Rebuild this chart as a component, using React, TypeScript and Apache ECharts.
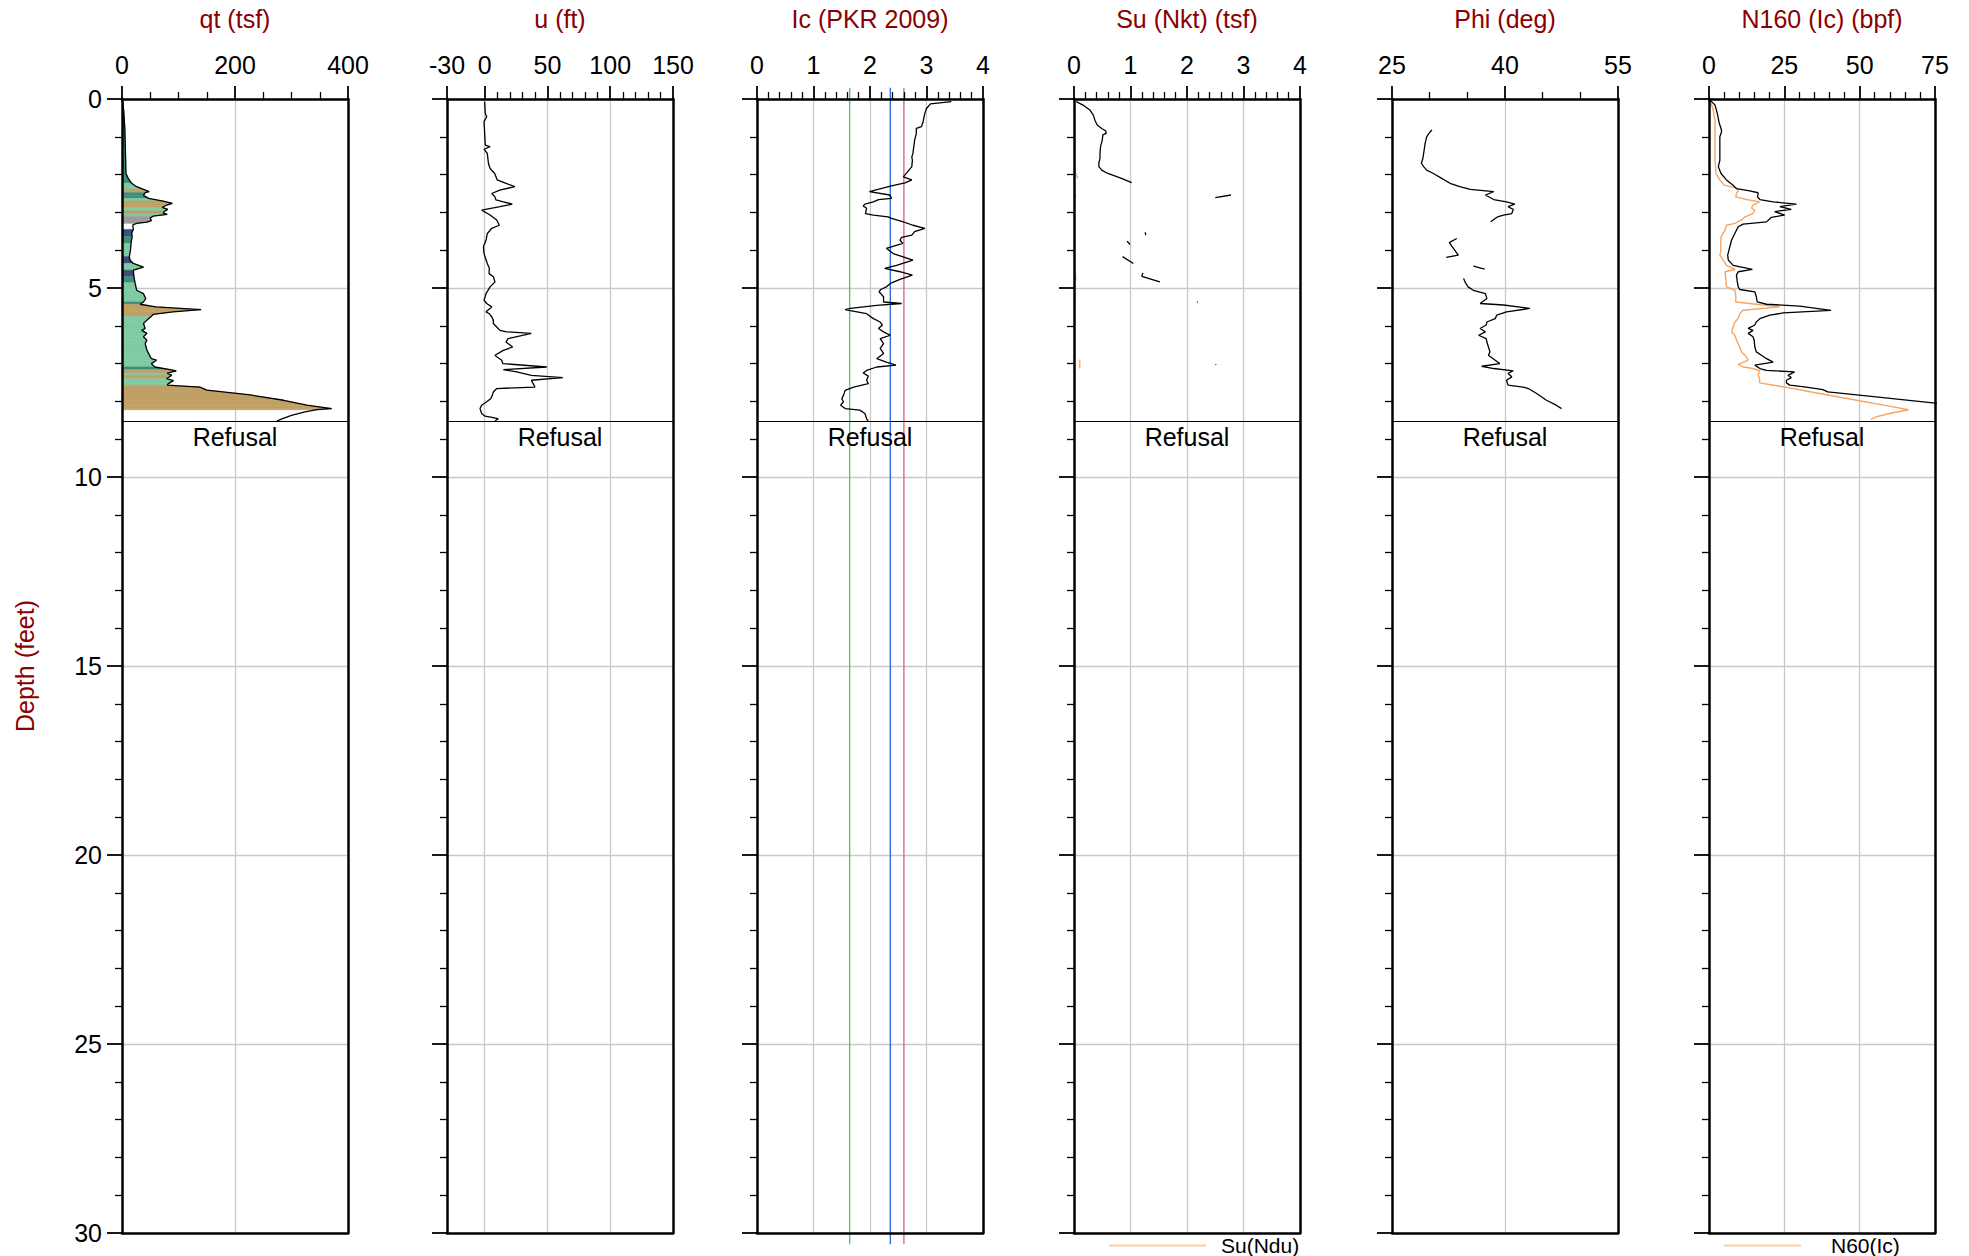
import React, { useEffect, useRef } from "react";
import * as echarts from "echarts";

const FONT = "'Liberation Sans', Arial, Helvetica, sans-serif";
const TITLE_COLOR = "#8b0000";

// ---------- depth axis ----------
const depthMajorTicks = [0, 5, 10, 15, 20, 25, 30];
const depthMinorTicks = [1, 2, 3, 4, 6, 7, 8, 9, 11, 12, 13, 14, 16, 17, 18, 19, 21, 22, 23, 24, 26, 27, 28, 29];
const depthGridLines = [5, 10, 15, 20, 25];
const refusalDepth = 8.53;

// ---------- panels ----------
const panelTitles = ["qt (tsf)", "u (ft)", "Ic (PKR 2009)", "Su (Nkt) (tsf)", "Phi (deg)", "N160 (Ic) (bpf)"];
const panelMin = [0, -30, 0, 0, 25, 0];
const panelMax = [400, 150, 4, 4, 55, 75];
const panelMajorTicks = [
  [0, 200, 400],
  [-30, 0, 50, 100, 150],
  [0, 1, 2, 3, 4],
  [0, 1, 2, 3, 4],
  [25, 40, 55],
  [0, 25, 50, 75],
];
const panelMinorTicks = [
  [50, 100, 150, 250, 300, 350],
  [10, 20, 30, 40, 60, 70, 80, 90, 110, 120, 130, 140],
  [0.2, 0.4, 0.6, 0.8, 1.2, 1.4, 1.6, 1.8, 2.2, 2.4, 2.6, 2.8, 3.2, 3.4, 3.6, 3.8],
  [0.2, 0.4, 0.6, 0.8, 1.2, 1.4, 1.6, 1.8, 2.2, 2.4, 2.6, 2.8, 3.2, 3.4, 3.6, 3.8],
  [30, 35, 45, 50],
  [5, 10, 15, 20, 30, 35, 40, 45, 55, 60, 65, 70],
];
const panelGridLines = [[200], [0, 50, 100], [1, 2, 3], [1, 2, 3], [40], [25, 50]];

// ---------- qt (tsf) with soil behaviour type zone per segment ----------
const qtDepth = [0.00,0.30,0.78,1.35,1.97,2.10,2.23,2.32,2.39,2.45,2.48,2.55,2.63,2.70,2.76,2.81,2.87,2.92,2.96,3.02,3.05,3.10,3.15,3.22,3.26,3.29,3.33,3.45,3.55,3.63,3.82,4.00,4.17,4.26,4.35,4.45,4.53,4.69,4.86,5.06,5.15,5.28,5.37,5.43,5.50,5.57,5.63,5.70,5.75,5.85,5.94,6.07,6.12,6.20,6.29,6.38,6.47,6.64,6.73,6.87,6.91,7.00,7.09,7.16,7.19,7.25,7.31,7.40,7.45,7.53,7.57,7.62,7.70,7.83,7.97,8.10,8.19,8.22,8.28,8.37,8.46,8.52];
const qtValue = [0,3,5,6,7,11,17,26,38,48,41,38,47,73,89,79,71,81,76,73,80,55,50,52,44,26,19,20,17,18,16,15,13,14,20,38,20,21,23,26,38,42,38,32,60,140,90,55,52,44,38,41,35,44,38,44,41,44,47,52,61,52,58,85,96,80,88,79,91,82,80,138,150,227,286,327,371,345,324,300,283,274];
const qtZone = [3,3,4,4,4,4,5,5,6,6,4,4,5,6,6,6,5,5,6,6,5,8,8,8,8,0,0,3,3,4,5,5,3,3,5,5,3,4,5,5,5,5,4,6,6,6,6,6,5,5,5,5,5,5,5,5,5,5,5,5,5,5,4,6,6,5,6,5,5,5,6,6,6,6,6,6,6,0,0,0,0,0];
const zoneColors: Record<number, string> = {
  3: "#3d4c7c",
  4: "#3e8e7d",
  5: "#80caa2",
  6: "#c0a064",
  8: "#9b9b9b",
};

// ---------- u (ft) ----------
const uDepth = [0.07,0.38,0.47,0.60,0.91,1.22,1.26,1.33,1.44,1.70,1.84,1.97,2.14,2.22,2.32,2.41,2.50,2.59,2.67,2.72,2.78,2.85,2.94,3.07,3.20,3.34,3.42,3.56,3.73,3.91,4.09,4.35,4.48,4.62,4.70,4.84,4.97,5.15,5.32,5.41,5.50,5.63,5.68,5.76,5.85,5.94,6.03,6.12,6.16,6.20,6.34,6.43,6.56,6.65,6.78,6.82,6.91,7.00,7.09,7.16,7.22,7.31,7.37,7.44,7.53,7.62,7.66,7.75,7.84,7.93,8.01,8.10,8.19,8.32,8.39,8.43,8.46,8.52];
const uValue = [0,0.5,1.6,-0.5,0,0.5,4.3,-0.5,2.1,3,4.3,8,10,16,24,12,5.6,8.2,9,14.9,22,12.2,-2.4,4.3,9.6,11.7,5.6,2.1,1.1,-1,-0.5,2.1,3.7,3.5,6.9,8.2,4.3,1.1,-0.5,1.6,5.6,1.1,3.7,5.6,6.9,6.9,9.6,12.2,17.6,37.2,18.6,17,22.3,14.9,8.2,9.6,13.6,14.4,49.5,14.9,25.5,37.2,62.3,37.2,38.6,40,9.6,6.9,6.1,4.8,1.6,-2.4,-3.7,-2.4,0.3,6.9,10.9,8.2];

// ---------- Ic (PKR 2009) ----------
const icDepth = [0.07,0.13,0.25,0.38,0.60,0.73,0.78,0.91,1.09,1.44,1.53,1.62,1.79,1.88,2.06,2.14,2.22,2.30,2.45,2.54,2.63,2.66,2.72,2.78,2.83,2.89,3.03,3.07,3.12,3.16,3.25,3.34,3.42,3.51,3.60,3.66,3.73,3.82,3.95,4.09,4.26,4.40,4.48,4.57,4.66,4.77,4.88,4.97,5.04,5.10,5.23,5.37,5.41,5.46,5.54,5.57,5.60,5.68,5.81,5.90,5.98,6.07,6.16,6.25,6.34,6.47,6.60,6.73,6.87,6.96,7.04,7.09,7.18,7.25,7.33,7.44,7.53,7.62,7.71,7.84,7.93,8.01,8.10,8.19,8.23,8.32,8.46,8.52];
const icValue = [3.44,3.07,3.00,2.97,2.94,2.91,2.82,2.82,2.79,2.76,2.74,2.75,2.74,2.69,2.59,2.74,2.62,2.38,1.99,2.35,2.38,2.15,2.06,1.91,1.88,1.94,1.92,2.06,2.32,2.38,2.59,2.76,2.97,2.79,2.74,2.56,2.53,2.58,2.29,2.41,2.76,2.47,2.26,2.53,2.75,2.53,2.36,2.29,2.19,2.16,2.24,2.24,2.56,2.12,1.65,1.56,1.65,1.94,2.06,2.18,2.22,2.15,2.24,2.36,2.18,2.24,2.18,2.24,2.12,2.29,2.46,2.12,1.94,1.88,1.97,1.94,1.97,1.71,1.56,1.53,1.50,1.53,1.48,1.56,1.82,1.91,1.94,1.97];
const icBoundaries = [1.64, 2.36, 2.6];
const icBoundaryColors = ["#62c072", "#2f6fd8", "#dc6c7c"];

// ---------- Su (Nkt) and Su (Ndu) (tsf); null = gap ----------
const suDepth = [0.07,0.16,0.29,0.42,0.56,0.69,0.78,0.84,0.91,0.95,1.09,1.26,1.44,1.57,1.70,1.79,1.88,1.97,2.10,2.21,null,2.54,2.61,null,3.53,3.60,null,3.76,3.85,null,4.17,4.35,null,4.60,4.69,4.84,null,5.36,5.38,null,7.01,7.03];
const suValue = [0.04,0.16,0.28,0.34,0.37,0.41,0.49,0.56,0.57,0.51,0.50,0.47,0.46,0.46,0.44,0.44,0.49,0.60,0.84,1.02,null,2.78,2.50,null,1.26,1.27,null,0.94,0.99,null,0.86,1.05,null,1.22,1.20,1.52,null,2.18,2.19,null,2.51,2.51];
const suNduDepth = [1.17,1.30,null,1.79,1.97,2.10,null,2.50,2.60,null,4.57,4.70,4.80,null,5.30,5.38,null,6.89,7.13];
const suNduValue = [0.01,0.01,null,0.01,0.03,0.07,null,0.02,0.03,null,0.02,0.03,0.03,null,0.01,0.01,null,0.10,0.10];

// ---------- Phi (deg); null = gap ----------
const phiDepth = [0.82,0.91,1.00,1.09,1.17,1.31,1.44,1.57,1.70,1.79,1.88,1.97,2.10,2.23,2.32,2.39,2.45,2.54,2.66,2.72,2.78,2.85,2.92,3.03,3.07,3.12,3.16,3.25,null,3.69,3.80,4.13,4.19,null,4.42,4.50,null,4.75,4.88,4.97,5.06,5.15,5.28,5.41,5.45,5.54,5.63,5.72,5.81,5.90,5.98,6.07,6.16,6.25,6.34,6.43,6.56,6.69,6.78,6.91,7.00,7.07,7.13,7.19,7.26,7.35,7.44,7.57,7.62,7.66,7.79,7.97,8.10,8.19];
const phiValue = [30.3,29.9,29.6,29.5,29.4,29.3,29.2,29.1,28.9,29.2,29.6,30.5,31.6,32.7,34.0,35.4,38.5,37.4,38.5,40.2,41.3,40.4,41.1,40.9,39.8,39.0,38.7,38.1,null,33.6,32.6,33.8,32.2,null,35.8,37.3,null,34.5,34.8,35.1,35.8,37.4,37.6,36.7,39.8,43.3,40.2,38.9,38.7,37.6,37.5,36.7,37.4,36.5,37.5,37.6,37.8,38.0,37.8,38.7,39.3,36.9,38.5,41.1,40.4,40.9,40.2,40.4,42.4,43.1,44.2,45.5,46.8,47.5];

// ---------- N1,60 (Ic) and N60 (Ic) (bpf) ----------
const n160Depth = [0.03,0.16,0.38,0.64,0.78,0.86,1.00,1.26,1.62,1.79,1.97,2.14,2.28,2.37,2.43,2.48,2.59,2.66,2.72,2.78,2.85,2.92,2.98,3.07,3.13,3.25,3.31,3.38,3.47,3.73,3.91,4.13,4.26,4.40,4.51,4.57,4.66,4.84,4.97,5.04,5.10,5.23,5.37,5.43,5.48,5.59,5.66,5.72,5.81,5.90,5.98,6.07,6.12,6.20,6.29,6.38,6.56,6.69,6.78,6.87,6.96,7.04,7.13,7.18,7.22,7.31,7.37,7.44,7.51,7.57,7.62,7.69,7.75,7.88,8.04,8.10];
const n160Value = [0.3,2.0,2.75,3.4,4.0,4.2,3.6,3.6,3.6,3.1,4.0,5.8,8.0,9.1,13.5,16.3,16.1,16.9,21.3,29.0,23.5,27.3,21.8,25.1,20.7,19.1,11.3,9.7,9.1,7.5,6.9,6.2,6.4,8.0,14.4,9.7,9.1,9.4,9.7,10.2,15.2,15.7,16.0,19.1,30.1,40.5,24.6,20.2,16.9,15.7,15.2,13.0,14.6,13.0,14.6,15.0,15.2,15.7,17.4,19.1,21.3,15.2,16.9,19.1,28.4,26.2,27.3,25.7,25.7,26.8,32.3,37.8,39.4,55.4,74.3,80];
const n60Depth = [0.03,0.29,0.56,0.91,1.26,1.62,1.97,2.14,2.28,2.35,2.43,2.50,2.59,2.66,2.72,2.81,2.89,2.94,3.03,3.12,3.20,3.29,3.34,3.47,3.65,3.82,4.00,4.13,4.26,4.40,4.51,4.57,4.79,4.97,5.06,5.23,5.37,5.43,5.50,5.59,5.68,5.81,5.90,6.03,6.16,6.25,6.38,6.56,6.69,6.82,6.91,7.02,7.09,7.13,7.19,7.31,7.40,7.51,7.63,7.79,7.97,8.10,8.22,8.32,8.41,8.48];
const n60Value = [0.3,1.4,2.0,2.0,2.0,2.0,2.3,3.6,5.0,9.1,9.7,9.1,8.9,12.4,16.8,14.6,14.1,15.2,14.6,11.9,10.8,8.6,5.8,5.3,4.0,3.9,4.0,3.6,4.7,5.8,8.6,5.3,5.6,5.8,8.6,8.9,8.9,15.8,23.5,11.3,10.2,9.7,8.6,8.0,7.5,8.6,9.1,10.2,10.8,12.4,13.0,9.7,11.3,14.6,16.8,16.3,16.8,16.8,25.7,36.7,49.0,58.0,66.2,59.8,55.4,53.7];

// ---------- layout ----------
const GRID_LEFT = [122, 447, 757, 1074, 1392, 1709];
const GRID_TOP = 99;
const GRID_W = 226;
const GRID_H = 1134;
const AXES_PER_PANEL = 4;

function pairs(depth: (number | null)[], value: (number | null)[]) {
  return depth.map((d, i) => (d == null || value[i] == null ? ["-", "-"] : [value[i], d]));
}

function buildOption() {
  const grid = GRID_LEFT.map((left) => ({
    left,
    top: GRID_TOP,
    width: GRID_W,
    height: GRID_H,
    containLabel: false,
    outerBoundsMode: "none",
  }));
  const border = { color: "#000", width: 2.5 };
  const xAxis: any[] = [];
  const yAxis: any[] = [];

  panelTitles.forEach((title, p) => {
    const xb = { type: "value", gridIndex: p, min: panelMin[p], max: panelMax[p] };
    xAxis.push({
      ...xb,
      position: "top",
      z: 5,
      name: title,
      nameLocation: "middle",
      nameGap: 68,
      nameMoveOverlap: false,
      nameTextStyle: { color: TITLE_COLOR, fontSize: 25, fontFamily: FONT },
      axisLine: { show: true, onZero: false, lineStyle: border },
      axisTick: { show: true, inside: false, length: 13, customValues: panelMajorTicks[p], lineStyle: { color: "#000", width: 1.8 } },
      axisLabel: { show: true, customValues: panelMajorTicks[p], margin: 22, fontSize: 25, color: "#000", fontFamily: FONT, hideOverlap: false },
      splitLine: { show: false },
    });
    xAxis.push({
      ...xb,
      position: "top",
      z: 5,
      axisLine: { show: false, onZero: false },
      axisTick: { show: true, inside: false, length: 7, customValues: panelMinorTicks[p], lineStyle: { color: "#000", width: 1.3 } },
      axisLabel: { show: false },
      splitLine: { show: false },
    });
    xAxis.push({
      ...xb,
      position: "bottom",
      z: 5,
      axisLine: { show: true, onZero: false, lineStyle: border },
      axisTick: { show: false },
      axisLabel: { show: false },
      splitLine: { show: false },
    });
    xAxis.push({
      ...xb,
      position: "bottom",
      z: 0,
      axisLine: { show: false, onZero: false },
      axisTick: { show: false, customValues: panelGridLines[p] },
      axisLabel: { show: false },
      splitLine: { show: true, lineStyle: { color: "#c8c8c8", width: 1.3 } },
    });

    const yb = { type: "value", gridIndex: p, min: 0, max: 30, inverse: true };
    yAxis.push({
      ...yb,
      position: "left",
      z: 5,
      name: p === 0 ? "Depth (feet)" : "",
      nameLocation: "middle",
      nameGap: 85,
      nameRotate: 90,
      nameMoveOverlap: false,
      nameTextStyle: { color: TITLE_COLOR, fontSize: 25, fontFamily: FONT },
      axisLine: { show: true, onZero: false, lineStyle: border },
      axisTick: { show: true, inside: false, length: 15, customValues: depthMajorTicks, lineStyle: { color: "#000", width: 1.8 } },
      axisLabel: { show: p === 0, customValues: depthMajorTicks, margin: 20, fontSize: 25, color: "#000", fontFamily: FONT, hideOverlap: false },
      splitLine: { show: false },
    });
    yAxis.push({
      ...yb,
      position: "left",
      z: 5,
      axisLine: { show: false, onZero: false },
      axisTick: { show: true, inside: false, length: 7, customValues: depthMinorTicks, lineStyle: { color: "#000", width: 1.3 } },
      axisLabel: { show: false },
      splitLine: { show: false },
    });
    yAxis.push({
      ...yb,
      position: "right",
      z: 5,
      axisLine: { show: true, onZero: false, lineStyle: border },
      axisTick: { show: false },
      axisLabel: { show: false },
      splitLine: { show: false },
    });
    yAxis.push({
      ...yb,
      position: "right",
      z: 0,
      axisLine: { show: false, onZero: false },
      axisTick: { show: false, customValues: depthGridLines },
      axisLabel: { show: false },
      splitLine: { show: true, lineStyle: { color: "#c8c8c8", width: 1.3 } },
    });
  });

  const ax = (p: number) => ({ xAxisIndex: p * AXES_PER_PANEL, yAxisIndex: p * AXES_PER_PANEL });

  const refusal = {
    silent: true,
    symbol: ["none", "none"],
    lineStyle: { color: "#000", width: 1.2, type: "solid" },
    label: {
      show: true,
      position: "insideMiddleBottom",
      formatter: "Refusal",
      color: "#000",
      fontSize: 25,
      fontFamily: FONT,
      distance: 3,
    },
    emphasis: { disabled: true },
    data: [{ yAxis: refusalDepth }],
  };

  const blackLine = (name: string, p: number, data: any[], withRefusal = true) => ({
    type: "line",
    name,
    ...ax(p),
    data,
    showSymbol: false,
    symbol: "none",
    connectNulls: false,
    clip: true,
    lineStyle: { color: "#000", width: 1.3 },
    itemStyle: { color: "#000" },
    z: 3,
    markLine: withRefusal ? refusal : undefined,
  });

  const qtSegments = qtDepth.slice(0, -1).map((d, i) => [qtValue[i], d, qtValue[i + 1], qtDepth[i + 1], qtZone[i]]);

  const series: any[] = [
    {
      type: "custom",
      name: "qt SBT",
      ...ax(0),
      data: qtSegments,
      encode: { x: [0, 2], y: [1, 3] },
      clip: true,
      z: 2,
      renderItem: (params: any, api: any) => {
        const color = zoneColors[api.value(4)];
        if (!color) return null;
        const d1 = api.value(1);
        const d2 = api.value(3);
        const pts = [
          api.coord([0, d1]),
          api.coord([api.value(0), d1]),
          api.coord([api.value(2), d2]),
          api.coord([0, d2]),
        ];
        return { type: "polygon", shape: { points: pts }, style: { fill: color, stroke: color, lineWidth: 0.6 } };
      },
    },
    blackLine("qt", 0, pairs(qtDepth, qtValue)),
    blackLine("u", 1, pairs(uDepth, uValue)),
    {
      type: "custom",
      name: "Ic boundaries",
      ...ax(2),
      data: icBoundaries.map((v) => [v, 0]),
      encode: { x: 0, y: 1 },
      clip: false,
      z: 2,
      renderItem: (params: any, api: any) => {
        const v = api.value(0);
        const a = api.coord([v, -0.3]);
        const b = api.coord([v, 30.3]);
        return {
          type: "line",
          shape: { x1: a[0], y1: a[1], x2: b[0], y2: b[1] },
          style: { stroke: icBoundaryColors[params.dataIndex], lineWidth: 1.4 },
        };
      },
    },
    blackLine("Ic", 2, pairs(icDepth, icValue)),
    {
      type: "line",
      name: "Su(Ndu)",
      ...ax(3),
      data: pairs(suNduDepth, suNduValue),
      showSymbol: false,
      symbol: "none",
      connectNulls: false,
      lineStyle: { color: "#f7b27a", width: 1.6 },
      itemStyle: { color: "#f7b27a" },
      z: 3,
    },
    blackLine("Su(Nkt)", 3, pairs(suDepth, suValue)),
    blackLine("Phi", 4, pairs(phiDepth, phiValue)),
    {
      type: "line",
      name: "N60(Ic)",
      ...ax(5),
      data: pairs(n60Depth, n60Value),
      showSymbol: false,
      symbol: "none",
      clip: true,
      lineStyle: { color: "#f5a462", width: 1.4 },
      itemStyle: { color: "#f5a462" },
      z: 3,
    },
    blackLine("N160(Ic)", 5, pairs(n160Depth, n160Value)),
  ];

  const legendBase = {
    orient: "horizontal",
    top: 1235,
    padding: 0,
    itemHeight: 2,
    icon: "rect",
    selectedMode: false,
    itemStyle: { color: "#f9cfa8", borderWidth: 0 },
    textStyle: { fontSize: 21, color: "#000", fontFamily: FONT },
  };

  return {
    animation: false,
    backgroundColor: "#ffffff",
    textStyle: { fontFamily: FONT },
    grid,
    xAxis,
    yAxis,
    legend: [
      { ...legendBase, left: 1109, itemWidth: 97, data: ["Su(Ndu)"], textStyle: { ...legendBase.textStyle, padding: [0, 0, 0, 10] } },
      { ...legendBase, left: 1724, itemWidth: 77, data: ["N60(Ic)"], textStyle: { ...legendBase.textStyle, padding: [0, 0, 0, 25] } },
    ],
    series,
  };
}

export default function App() {
  const ref = useRef<HTMLDivElement>(null);
  useEffect(() => {
    if (!ref.current) return;
    const chart = echarts.init(ref.current, null, { renderer: "svg" });
    chart.setOption(buildOption() as any);
    return () => chart.dispose();
  }, []);
  return (
    <div
      ref={ref}
      style={{ position: "fixed", left: 0, top: 0, width: 1969, height: 1256, background: "#ffffff" }}
    />
  );
}
